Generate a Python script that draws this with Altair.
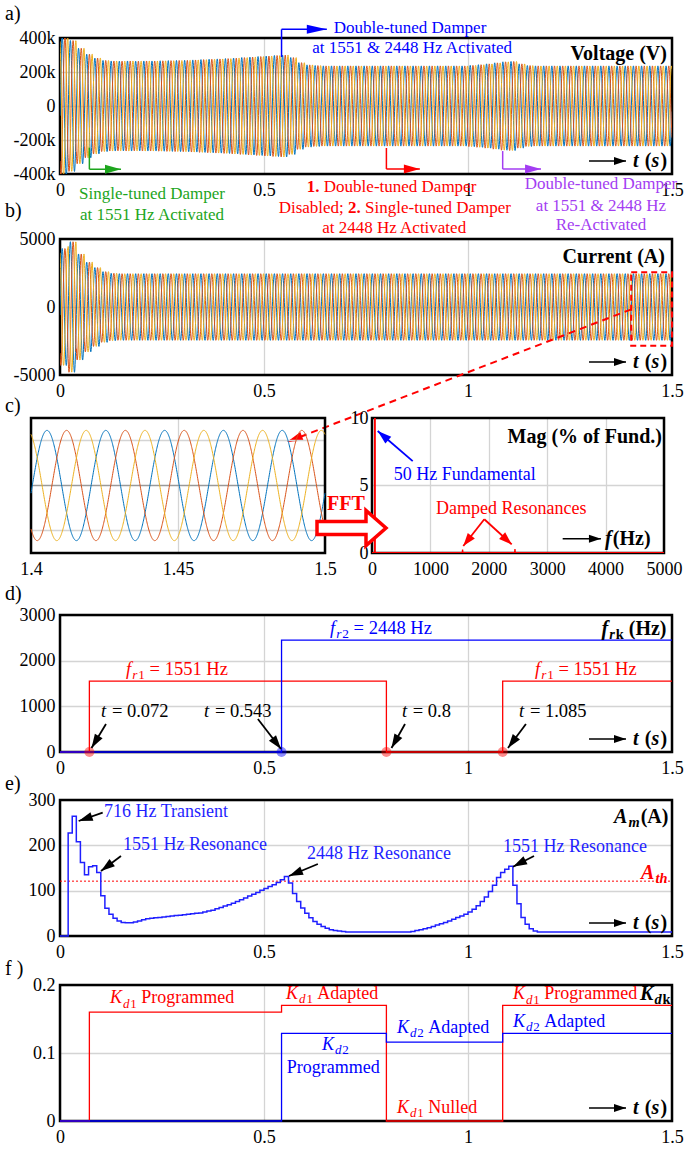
import math
import numpy as np
import pandas as pd
import altair as alt

SERIF = "Liberation Serif"
INK = "#000000"
GRID_GREY = "#d4d4d4"
PHASE_COLORS = ["#0072BD", "#D95319", "#EDB120"]
BLUE = "#0000FF"
RED = "#FF0000"
GREEN = "#1DA51D"
PURPLE = "#A33DF2"
TRACE_BLUE = "#1F1FFF"

# ---------------- values ----------------
F0 = 50.0
CYCLE = 1.0 / F0
PHASE_DEG = [-8, -128, 112]          # phases a, b, c

# peak of the bus voltage in every 50 Hz cycle (kV)
V_PEAK_KV = ([410, 385, 340, 305, 282, 268, 265, 264, 265, 264,
              265, 265, 266, 267, 268, 269, 271, 273, 275, 277,
              279, 282, 285, 288, 291, 294, 297, 300, 285, 255,
              242, 238] + [236] * 18 +
             [239, 243, 248, 254, 260, 262, 248, 238] + [236] * 17)
# peak of the line current in every 50 Hz cycle (A)
I_PEAK_A = [4300, 4800, 3900, 3300, 2900, 2600, 2480] + [2450] * 68

ZOOM_WINDOW = [1.4, 1.5]

# spectrum of the zoomed current window (% of fundamental)
SPEC_HZ = [0, 45, 50, 55, 1545, 1551, 1557, 2442, 2448, 2454, 5000]
SPEC_PCT = [0.03, 0.03, 100.0, 0.03, 0.03, 0.25, 0.03, 0.03, 0.3, 0.03, 0.03]

# identified resonance frequencies
FR1_T = [0.0, 0.072, 0.8, 1.085, 1.5]
FR1_HZ = [0, 1551, 0, 1551, 1551]
FR2_T = [0.0, 0.543, 1.5]
FR2_HZ = [0, 2448, 2448]
EVENT_T = [0.072, 0.543, 0.8, 1.085]
EVENT_DAMPER = ["r1", "r2", "r1", "r1"]

# resonance magnitude A_m, one value per 10 ms window
AM_STEP = 0.01
AM_A = [0, 0, 227, 264, 208, 162, 135, 153, 155, 140,
        89, 61, 48, 39, 33, 30, 29, 29, 31, 33,
        36, 38, 39, 40, 41, 42, 43, 44, 45, 46,
        47, 48, 49, 50, 51, 53, 55, 57, 60, 63,
        66, 69, 72, 76, 80, 84, 88, 92, 96, 101,
        105, 109, 113, 118, 124, 131, 117, 94, 76, 62,
        50, 40, 32, 26, 21, 17, 14, 12, 11, 10,
        9, 9, 9, 9, 9, 9, 9, 9, 9, 9,
        9, 9, 9, 9, 9, 9, 10, 12, 14, 16,
        18, 21, 24, 27, 30, 33, 37, 41, 44, 48,
        53, 59, 67, 76, 86, 98, 112, 129, 140, 147,
        154, 112, 71, 41, 26, 16, 11, 9, 9, 9] + [9] * 30
A_TH = 121

# damping gains
KD1_T = [0.0, 0.072, 0.543, 0.8, 1.085, 1.5]
KD1 = [0.0, 0.16, 0.17, 0.0, 0.17, 0.17]
KD2_T = [0.0, 0.543, 0.8, 1.085, 1.5]
KD2 = [0.0, 0.129, 0.116, 0.129, 0.129]


# ---------------- waveform tables ----------------
def peak_track(peaks, t):
    idx = np.minimum(np.floor(t / CYCLE + 1e-9).astype(int), len(peaks) - 1)
    return np.asarray(peaks, dtype=float)[idx]


def three_phase(t, amp):
    return [amp * np.sin(2 * np.pi * F0 * t + np.deg2rad(p)) for p in PHASE_DEG]


t_run = np.round(np.arange(0.0, 1.5 + 1e-9, 0.0005), 4)
v_abc = three_phase(t_run, peak_track(V_PEAK_KV, t_run) * 1000.0)
i_abc = three_phase(t_run, peak_track(I_PEAK_A, t_run))
run_df = pd.DataFrame({"t": t_run,
                       "va": v_abc[0].round(0), "vb": v_abc[1].round(0), "vc": v_abc[2].round(0),
                       "ia": i_abc[0].round(1), "ib": i_abc[1].round(1), "ic": i_abc[2].round(1)})

t_zoom = np.round(np.arange(ZOOM_WINDOW[0], ZOOM_WINDOW[1] + 1e-9, 0.0001), 4)
z_abc = three_phase(t_zoom, peak_track(I_PEAK_A, t_zoom))
zoom_df = pd.DataFrame({"t": t_zoom, "ia": z_abc[0].round(1), "ib": z_abc[1].round(1), "ic": z_abc[2].round(1)})

spec_df = pd.DataFrame({"f": SPEC_HZ, "m": SPEC_PCT})
fr1_df = pd.DataFrame({"t": FR1_T, "v": FR1_HZ})
fr2_df = pd.DataFrame({"t": FR2_T, "v": FR2_HZ})
event_df = pd.DataFrame({"t": EVENT_T, "v": [0] * len(EVENT_T), "damper": EVENT_DAMPER})
am_df = pd.DataFrame({"t": [round(k * AM_STEP, 2) for k in range(len(AM_A) + 1)],
                      "v": AM_A + [AM_A[-1]]})
kd1_df = pd.DataFrame({"t": KD1_T, "v": KD1})
kd2_df = pd.DataFrame({"t": KD2_T, "v": KD2})

# ---------------- text helpers ----------------
STYLE_FONT = {"R": ("normal", "normal"), "I": ("normal", "italic"),
              "B": ("bold", "normal"), "BI": ("bold", "italic")}
ADV = {
    "R": {" ": .25, "=": .564, "(": .333, ")": .333, ".": .25, ";": .278, "D": .722, "i": .278,
          "s": .389, "a": .444, "b": .5, "l": .278, "e": .444, "d": .5, "H": .722, "z": .444},
    "I": {"f": .278, "r": .389, "t": .278, "K": .667, "d": .5, "h": .5, "m": .722, "A": .611},
    "B": {" ": .25, "(": .333, ")": .333, "k": .556, ".": .25, "H": .778, "z": .444, "A": .722},
    "BI": {"f": .333, "r": .389, "t": .278, "s": .389, "A": .667, "m": .778, "K": .667,
           "d": .5, "h": .556, "k": .5},
}


def advance(text, style, size):
    w = sum(ADV[style].get(ch, 0.5) for ch in text) * size
    if "I" in style and text.strip():
        w += 0.06 * size
    return w


def x_axis(values):
    return alt.Axis(values=values, labelExpr="'' + datum.value", orient="bottom", grid=True,
                    gridColor=GRID_GREY, gridWidth=1.3, ticks=False, domain=False,
                    labelFont=SERIF, labelFontSize=18, labelColor=INK, labelPadding=7,
                    labelFlush=False, labelOverlap=False)


def y_axis(values, expr, grid=True, offset=0, pad=5):
    return alt.Axis(values=values, labelExpr=expr, orient="left", grid=grid, offset=offset,
                    gridColor=GRID_GREY, gridWidth=1.3, ticks=False, domain=False,
                    labelFont=SERIF, labelFontSize=18, labelColor=INK, labelPadding=pad,
                    labelOverlap=False)


SIGNED = "(datum.value < 0 ? '-' : '') + abs(datum.value)"
KILO = "(datum.value < 0 ? '-' : '') + (datum.value == 0 ? '0' : abs(datum.value) / 1000 + 'k')"


class Panel:
    def __init__(self, xdom, ydom, xr, yr, xaxis, yaxis):
        self.xdom, self.ydom, self.xr, self.yr = xdom, ydom, xr, yr
        self.xaxis, self.yaxis = xaxis, yaxis
        self.layers = []
        self.rows = []

    def X(self, f):
        return alt.X(f"{f}:Q", scale=alt.Scale(domain=self.xdom, range=self.xr, nice=False, zero=False),
                     axis=self.xaxis, title=None)

    def Y(self, f):
        return alt.Y(f"{f}:Q", scale=alt.Scale(domain=self.ydom, range=self.yr, nice=False, zero=False),
                     axis=self.yaxis, title=None)

    def px_x(self, px):
        return px * (self.xdom[1] - self.xdom[0]) / (self.xr[1] - self.xr[0])

    def px_y(self, px):
        return px * (self.ydom[1] - self.ydom[0]) / (self.yr[1] - self.yr[0])

    def add(self, layer):
        self.layers.append(layer)

    def frame(self):
        df = pd.DataFrame({"x0": [self.xdom[0]], "x1": [self.xdom[1]],
                           "y0": [self.ydom[0]], "y1": [self.ydom[1]]})
        self.add(alt.Chart(df).mark_rect(fillOpacity=0, stroke=INK, strokeWidth=2.5).encode(
            x=self.X("x0"), x2=alt.X2("x1"), y=self.Y("y0"), y2=alt.Y2("y1")))

    def step(self, df, color, width=1.3):
        self.add(alt.Chart(df).mark_line(interpolate="step-after", color=color, strokeWidth=width).encode(
            x=self.X("t"), y=self.Y("v")))

    def text(self, x, y, s, color, size, style="R", align="left"):
        self.rows.append(dict(x=x, y=y, text=s, color=color, size=float(size), style=style, align=align))

    def rich(self, x, y, segs, color, size, sub_ratio=0.72):
        # left-aligned run of differently styled pieces; sub=True lowers and shrinks a piece
        cur = 0.0
        for s, style, sub in segs:
            fs = size * sub_ratio if sub else size
            lead = len(s) - len(s.lstrip(" "))
            trail = len(s) - len(s.rstrip(" "))
            cur += advance(" " * lead, style, fs)
            body = s.strip(" ")
            dy = 0.3 * size if sub else 0.0
            self.text(x + self.px_x(cur), y + self.px_y(dy), body, color, round(fs, 1), style)
            cur += advance(body, style, fs) + advance(" " * trail, style, fs)

    def arrow(self, x1, y1, x2, y2, color, width=1.5, head=(14, 9), dash=None):
        df = pd.DataFrame({"x": [x1], "y": [y1], "x2": [x2], "y2": [y2]})
        kw = dict(color=color, strokeWidth=width)
        if dash:
            kw["strokeDash"] = dash
        self.add(alt.Chart(df).mark_rule(**kw).encode(
            x=self.X("x"), y=self.Y("y"), x2=alt.X2("x2"), y2=alt.Y2("y2")))
        if head:
            length, wide = head
            dxp = (x2 - x1) / self.px_x(1)
            dyp = (y2 - y1) / self.px_y(1)
            df["ang"] = math.degrees(math.atan2(dxp, -dyp)) % 360
            r = wide / length
            shape = f"M0,0L{r:.3f},2L{-r:.3f},2Z"
            self.add(alt.Chart(df).mark_point(shape=shape, filled=True, color=color, opacity=1,
                                              size=length * length, strokeWidth=0).encode(
                x=self.X("x2"), y=self.Y("y2"), angle=alt.Angle("ang:Q", scale=None)))

    def time_arrow(self, y):
        self.arrow(1.2966, y, 1.3873, y, INK, 1.5, (12, 8))
        self.rich(1.4044, y, [("t", "BI", False), (" (", "B", False), ("s", "BI", False),
                              (")", "B", False)], INK, 20)

    def finish(self):
        if self.rows:
            df = pd.DataFrame(self.rows)
            for (color, size, style, align), g in df.groupby(["color", "size", "style", "align"], sort=False):
                weight, fstyle = STYLE_FONT[style]
                self.add(alt.Chart(g[["x", "y", "text"]].reset_index(drop=True)).mark_text(
                    font=SERIF, fontSize=float(size), fontWeight=weight, fontStyle=fstyle, color=color,
                    align=align, baseline="middle").encode(x=self.X("x"), y=self.Y("y"), text="text:N"))
        return self.layers


def panel_label(text, dy):
    return alt.Chart(pd.DataFrame({"lab": [text]})).mark_text(
        font=SERIF, fontSize=20, align="left", baseline="middle", color=INK).encode(
        x=alt.value(-55), y=alt.value(dy), text="lab:N")


W = 612
T_TICKS = [0, 0.5, 1, 1.5]

# ---------------- a) voltage ----------------
pa = Panel([0, 1.5], [-400000, 400000], [0, W], [136, 0], x_axis(T_TICKS),
           y_axis([-400000, -200000, 0, 200000, 400000], KILO))
pa.frame()
for col, c in zip(["va", "vb", "vc"], PHASE_COLORS):
    pa.add(alt.Chart(run_df).mark_line(color=c, strokeWidth=1, clip=True).encode(x=pa.X("t"), y=pa.Y(col)))
pa.text(1.4877, 306000, "Voltage (V)", INK, 20, "B", "right")
pa.time_arrow(-323500)
# damper events
pa.arrow(0.543, 288000, 0.543, 451000, BLUE, 1.5, None)
pa.arrow(0.543, 451000, 0.654, 451000, BLUE, 1.5, (20, 9))
pa.text(0.858, 460000, "Double-tuned Damper", BLUE, 17, align="center")
pa.text(0.863, 343000, "at 1551 & 2448 Hz Activated", BLUE, 17, align="center")
pa.arrow(0.072, -245000, 0.072, -372000, GREEN, 1.5, None)
pa.arrow(0.072, -372000, 0.1495, -372000, GREEN, 1.5, (16, 9))
pa.text(0.2255, -518000, "Single-tuned Damper", GREEN, 17, align="center")
pa.text(0.2255, -641000, "at 1551 Hz Activated", GREEN, 17, align="center")
pa.arrow(0.8, -247000, 0.8, -371000, RED, 1.5, None)
pa.arrow(0.8, -371000, 0.882, -371000, RED, 1.5, (16, 9))
pa.rich(0.605, -476000, [("1.", "B", False), (" Double-tuned Damper", "R", False)], RED, 17)
pa.rich(0.536, -598000, [("Disabled; ", "R", False), ("2.", "B", False),
                         (" Single-tuned Damper", "R", False)], RED, 17)
pa.text(0.819, -716000, "at 2448 Hz Activated", RED, 17, align="center")
pa.arrow(1.085, -265000, 1.085, -371000, PURPLE, 1.5, None)
pa.arrow(1.085, -371000, 1.179, -371000, PURPLE, 1.5, (16, 9))
pa.text(1.326, -459000, "Double-tuned Damper", PURPLE, 17, align="center")
pa.text(1.326, -588000, "at 1551 & 2448 Hz", PURPLE, 17, align="center")
pa.text(1.326, -700000, "Re-Activated", PURPLE, 17, align="center")
chart_a = alt.layer(*pa.finish(), panel_label("a)", -24)).properties(width=W, height=136)

# ---------------- b) current ----------------
pb = Panel([0, 1.5], [-5000, 5000], [0, W], [136, 0], x_axis(T_TICKS),
           y_axis([-5000, 0, 5000], SIGNED))
pb.frame()
for col, c in zip(["ia", "ib", "ic"], PHASE_COLORS):
    pb.add(alt.Chart(run_df).mark_line(color=c, strokeWidth=1, clip=True).encode(x=pb.X("t"), y=pb.Y(col)))
pb.text(1.4828, 3676, "Current (A)", INK, 20, "B", "right")
pb.time_arrow(-4044)
zoom_box = pd.DataFrame({"x0": [ZOOM_WINDOW[0]], "x1": [ZOOM_WINDOW[1]], "y0": [-2850], "y1": [2550]})
pb.add(alt.Chart(zoom_box).mark_rect(fillOpacity=0, stroke=RED, strokeWidth=2, strokeDash=[6, 4]).encode(
    x=pb.X("x0"), x2=alt.X2("x1"), y=pb.Y("y0"), y2=alt.Y2("y1")))
pb.arrow(1.4, -170, 0.5564, -9926, RED, 2, (16, 9), dash=[7, 5])
chart_b = alt.layer(*pb.finish(), panel_label("b)", -28)).properties(width=W, height=136)

# ---------------- c) zoomed current and its spectrum ----------------
pcl = Panel(ZOOM_WINDOW, [-3000, 3000], [-29, 265], [135, 0], x_axis([1.4, 1.45, 1.5]), None)
for gy, gc in [(-2000, GRID_GREY), (0, "#9a9a9a"), (2000, GRID_GREY)]:
    pcl.add(alt.Chart(pd.DataFrame({"x": [ZOOM_WINDOW[0]], "x2": [ZOOM_WINDOW[1]], "y": [gy]}))
            .mark_rule(color=gc, strokeWidth=1.3).encode(x=pcl.X("x"), x2=alt.X2("x2"), y=pcl.Y("y")))
pcl.frame()
for col, c in zip(["ia", "ib", "ic"], PHASE_COLORS):
    pcl.add(alt.Chart(zoom_df).mark_line(color=c, strokeWidth=1).encode(x=pcl.X("t"), y=pcl.Y(col)))

pcr = Panel([0, 5000], [0, 10], [312, 604], [135, 0], x_axis([0, 1000, 2000, 3000, 4000, 5000]),
            y_axis([0, 5, 10], SIGNED, grid=False, offset=-312, pad=4))
pcr.add(alt.Chart(pd.DataFrame({"x": [0], "x2": [5000], "y": [5]}))
        .mark_rule(color=GRID_GREY, strokeWidth=1.3).encode(x=pcr.X("x"), x2=alt.X2("x2"), y=pcr.Y("y")))
pcr.frame()
pcr.add(alt.Chart(spec_df).mark_line(color=RED, strokeWidth=1.3, clip=True).encode(x=pcr.X("f"), y=pcr.Y("m")))
pcr.text(4966, 8.61, "Mag (% of Fund.)", INK, 20, "B", "right")
pcr.text(371.5, 5.76, "50 Hz Fundamental", BLUE, 18)
pcr.arrow(697, 6.81, 97.6, 9.04, BLUE, 1.8, (14, 9))
pcr.text(1096, 3.24, "Damped Resonances", RED, 18)
pcr.arrow(1923, 2.50, 1563, 0.52, RED, 1.8, (13, 9))
pcr.arrow(1923, 2.50, 2392, 0.64, RED, 1.8, (13, 9))
pcr.arrow(3265, 1.06, 3920, 1.06, INK, 1.5, (12, 8))
pcr.rich(3989, 1.06, [("f", "BI", False), ("(Hz)", "B", False)], INK, 20)
pcr.text(-445, 3.61, "FFT", RED, 20, "B", "center")
block = pd.DataFrame({"x": [-351], "y": [1.85]})
pcr.add(alt.Chart(block).mark_point(
    shape="M-1,-0.19L0.42,-0.19L0.42,-0.51L1,0L0.42,0.51L0.42,0.19L-1,0.19Z",
    filled=True, fill="#ffffff", stroke=RED, strokeWidth=3.5, opacity=1, size=4761).encode(
    x=pcr.X("x"), y=pcr.Y("y")))
chart_c = alt.layer(alt.layer(*pcl.finish(), panel_label("c)", -12)), alt.layer(*pcr.finish())).resolve_scale(
    x="independent", y="independent").properties(width=604, height=135)

# ---------------- d) resonance frequencies ----------------
pd_ = Panel([0, 1.5], [0, 3000], [0, W], [137, 0], x_axis(T_TICKS),
            y_axis([0, 1000, 2000, 3000], SIGNED))
pd_.frame()
pd_.step(fr1_df, RED)
pd_.step(fr2_df, BLUE)
pd_.add(alt.Chart(event_df).mark_circle(size=100, opacity=0.45).encode(
    x=pd_.X("t"), y=pd_.Y("v"),
    color=alt.Color("damper:N", scale=alt.Scale(domain=["r1", "r2"], range=[RED, BLUE]), legend=None)))
for x0 in [0.162, 1.164]:
    pd_.rich(x0, 1818, [("f", "I", False), ("r", "I", True), ("1", "R", True), (" = 1551 Hz", "R", False)], RED, 18.5)
pd_.rich(0.662, 2716, [("f", "I", False), ("r", "I", True), ("2", "R", True), (" = 2448 Hz", "R", False)], BLUE, 18.5)
for x0, lab in [(0.1005, "0.072"), (0.353, "0.543"), (0.838, "0.8"), (1.125, "1.085")]:
    pd_.rich(x0, 898, [("t", "I", False), (" = " + lab, "R", False)], INK, 18.5)
pd_.arrow(0.1127, 613, 0.0772, 88, INK, 1.8, (14, 9))
pd_.arrow(0.485, 723, 0.5417, 66, INK, 1.8, (14, 9))
pd_.arrow(0.8456, 613, 0.8125, 88, INK, 1.8, (14, 9))
pd_.arrow(1.142, 613, 1.098, 88, INK, 1.8, (14, 9))
pd_.rich(1.327, 2694, [("f", "BI", False), ("r", "BI", True), ("k", "B", True), (" (Hz)", "B", False)], INK, 20)
pd_.time_arrow(285)
chart_d = alt.layer(*pd_.finish(), panel_label("d)", -21)).properties(width=W, height=137)

# ---------------- e) resonance magnitude ----------------
pe = Panel([0, 1.5], [0, 300], [0, W], [136, 0], x_axis(T_TICKS),
           y_axis([0, 100, 200, 300], SIGNED))
pe.frame()
pe.add(alt.Chart(pd.DataFrame({"x": [0], "x2": [1.5], "y": [A_TH]})).mark_rule(
    color=RED, strokeWidth=1, strokeDash=[2, 2]).encode(x=pe.X("x"), x2=alt.X2("x2"), y=pe.Y("y")))
pe.step(am_df, TRACE_BLUE, 1.5)
pe.text(0.108, 273.5, "716 Hz Transient", TRACE_BLUE, 18)
pe.text(0.1544, 200, "1551 Hz Resonance", TRACE_BLUE, 18)
pe.text(0.6054, 181, "2448 Hz Resonance", TRACE_BLUE, 18)
pe.text(1.0858, 197, "1551 Hz Resonance", TRACE_BLUE, 18)
pe.arrow(0.1047, 272, 0.0458, 253.7, INK, 1.8, (14, 9))
pe.arrow(0.1495, 176.5, 0.1005, 143.4, INK, 1.8, (14, 9))
pe.arrow(0.632, 158.8, 0.5613, 132.4, INK, 1.8, (14, 9))
pe.arrow(1.1618, 176.5, 1.1103, 152.9, INK, 1.8, (14, 9))
pe.rich(1.358, 263, [("A", "BI", False), ("m", "BI", True), ("(A)", "B", False)], INK, 20)
pe.rich(1.424, 139, [("A", "BI", False), ("th", "BI", True)], RED, 20)
pe.time_arrow(28.7)
chart_e = alt.layer(*pe.finish(), panel_label("e)", -16)).properties(width=W, height=136)

# ---------------- f) damping gains ----------------
pf = Panel([0, 1.5], [0, 0.2], [0, W], [136, 0], x_axis(T_TICKS),
           y_axis([0, 0.1, 0.2], SIGNED))
pf.frame()
pf.step(kd1_df, RED)
pf.step(kd2_df, BLUE)
KD1_SEG = [("K", "I", False), ("d", "I", True), ("1", "R", True)]
KD2_SEG = [("K", "I", False), ("d", "I", True), ("2", "R", True)]
pf.rich(0.1225, 0.1804, KD1_SEG + [(" Programmed", "R", False)], RED, 18)
pf.rich(0.554, 0.1872, KD1_SEG + [(" Adapted", "R", False)], RED, 18)
pf.rich(0.642, 0.1120, KD2_SEG, BLUE, 18)
pf.text(0.556, 0.0780, "Programmed", BLUE, 18)
pf.rich(0.826, 0.1372, KD2_SEG + [(" Adapted", "R", False)], BLUE, 18)
pf.rich(0.826, 0.0196, KD1_SEG + [(" Nulled", "R", False)], RED, 18)
pf.rich(1.110, 0.1863, KD1_SEG + [(" Programmed", "R", False)], RED, 18)
pf.rich(1.110, 0.1456, KD2_SEG + [(" Adapted", "R", False)], BLUE, 18)
pf.rich(1.4216, 0.1868, [("K", "BI", False), ("d", "BI", True), ("k", "B", True)], INK, 20)
pf.time_arrow(0.0191)
chart_f = alt.layer(*pf.finish(), panel_label("f )", -16)).properties(width=W, height=136)


def gap(h):
    return alt.Chart(pd.DataFrame({"s": [0]})).mark_point(opacity=0).encode(
        x=alt.X("s:Q", axis=None), y=alt.Y("s:Q", axis=None)).properties(width=1, height=h)


chart = alt.vconcat(chart_a, gap(65), chart_b, gap(43), chart_c, gap(62), chart_d, gap(48),
                    chart_e, gap(49), chart_f, spacing=0, bounds="flush").properties(
    padding={"left": 4, "top": 3, "right": 0, "bottom": 0}).configure_view(stroke="transparent")

chart.save("out.html", embed_options={"renderer": "svg", "actions": False})
